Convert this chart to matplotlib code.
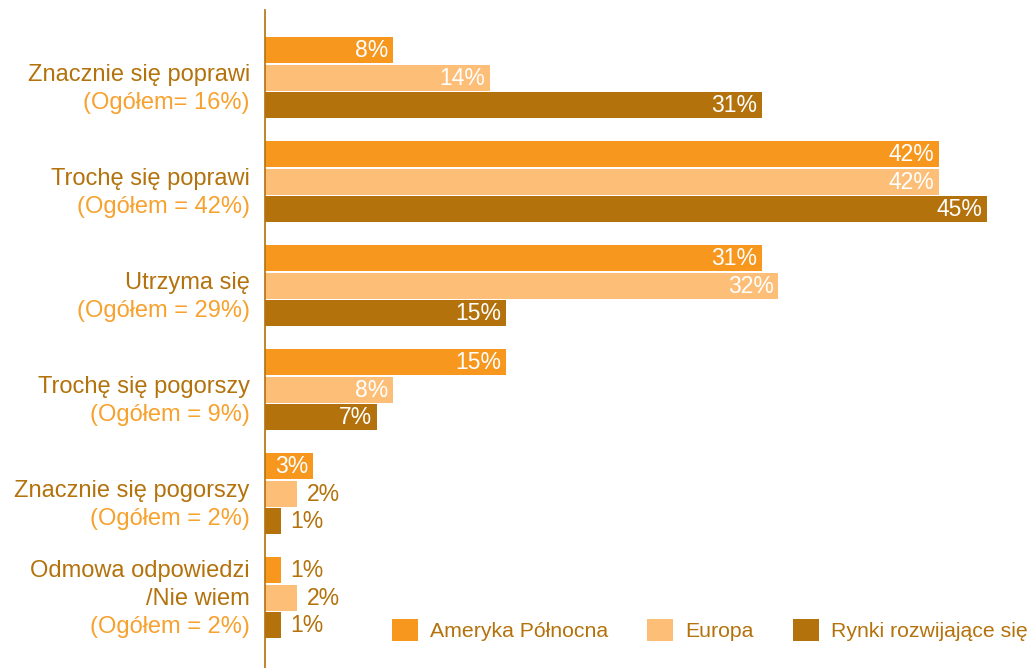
import matplotlib.pyplot as plt
import numpy as np

plt.rcParams["font.family"] = ["Liberation Sans", "DejaVu Sans"]

categories = [
    "Znacznie się poprawi",
    "Trochę się poprawi",
    "Utrzyma się",
    "Trochę się pogorszy",
    "Znacznie się pogorszy",
    "Odmowa odpowiedzi\n/Nie wiem",
]
totals = [
    "(Ogółem= 16%)",
    "(Ogółem = 42%)",
    "(Ogółem = 29%)",
    "(Ogółem = 9%)",
    "(Ogółem = 2%)",
    "(Ogółem = 2%)",
]
series = ["Ameryka Północna", "Europa", "Rynki rozwijające się"]
north_america = [8, 42, 31, 15, 3, 1]
europe = [14, 42, 32, 8, 2, 2]
emerging = [31, 45, 15, 7, 1, 1]

colors = ["#F7971E", "#FDBE78", "#B3720C"]
text_dark = "#B3720C"
text_light = "#F7A12E"

fig = plt.figure(figsize=(10.35, 6.68), dpi=100)
ax = fig.add_axes([265 / 1035, 0, 1 - 265 / 1035, 658 / 668])

y = np.arange(len(categories))
offsets = [-0.268, 0.0, 0.262]
height = 0.25
for values, off, color, name in zip([north_america, europe, emerging], offsets, colors, series):
    bars = ax.barh(y + off, values, height=height, color=color, label=name)
    for bar, v in zip(bars, values):
        yc = bar.get_y() + bar.get_height() / 2
        if v >= 3:
            ax.text(v - 0.3, yc, f"{v}%", ha="right", va="center",
                    color="white", fontsize=16.5)
        else:
            ax.text(v + 0.6, yc, f"{v}%", ha="left", va="center",
                    color=text_dark, fontsize=16.5)

ax.set_xlim(0, 48)
ax.set_ylim(5.673, -0.654)

# category names (one or two lines) with the overall share underneath
step = 0.27
for i, (cat, tot) in enumerate(zip(categories, totals)):
    lines = cat.split("\n")
    top = i - 0.03 - 0.23 * (len(lines) - 1)
    for k, line in enumerate(lines):
        ax.text(-0.95, top + step * k, line, ha="right", va="center",
                color=text_dark, fontsize=17)
    ax.text(-0.95, top + step * len(lines), tot, ha="right", va="center",
            color=text_light, fontsize=17)

for side in ["top", "right", "bottom"]:
    ax.spines[side].set_visible(False)
ax.spines["left"].set_color(text_dark)
ax.spines["left"].set_linewidth(1.2)
ax.set_xticks([])
ax.set_yticks([])

leg = ax.legend(ncol=3, loc="center left", bbox_to_anchor=(0.165, 0.058),
                frameon=False, fontsize=15.3, handlelength=1.22, handleheight=1.22,
                handletextpad=0.56, columnspacing=1.85, borderpad=0, borderaxespad=0)
for t in leg.get_texts():
    t.set_color(text_dark)

fig.savefig("out.png", dpi=100, facecolor="white")
